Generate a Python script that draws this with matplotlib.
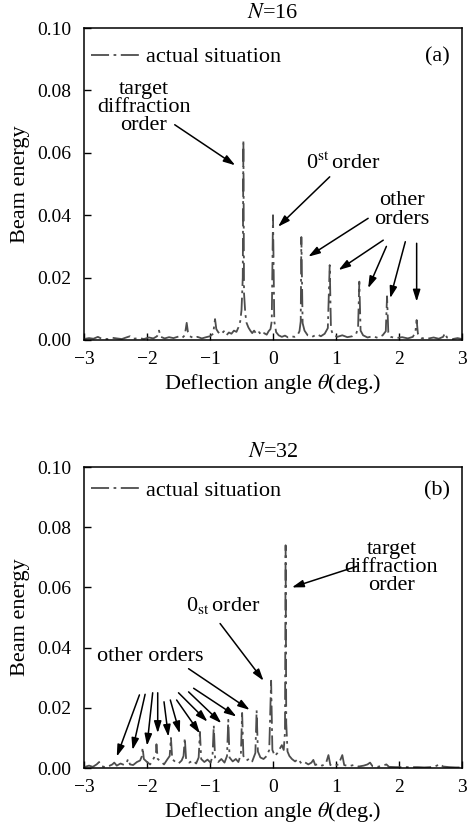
import numpy as np
import matplotlib
matplotlib.use("Agg")
import matplotlib.pyplot as plt

plt.rcParams['font.family'] = ['Liberation Serif', 'DejaVu Serif']
plt.rcParams['mathtext.fontset'] = 'stix'

# ---- panel (a), N=16: deflection angle (deg) and beam energy
theta_a = [-3.00, -2.92, -2.85, -2.78, -2.72, -2.62, -2.55, -2.48, -2.40, -2.33,
           -2.27, -2.22, -2.12, -2.05, -1.97, -1.90, -1.84, -1.81, -1.78, -1.72,
           -1.65, -1.58, -1.50, -1.44, -1.40, -1.37, -1.35, -1.32, -1.26, -1.20,
           -1.13, -1.06, -1.00, -0.95, -0.92, -0.90, -0.87, -0.83, -0.78, -0.74,
           -0.70, -0.66, -0.62, -0.58, -0.55, -0.52, -0.50, -0.48, -0.47, -0.46,
           -0.44, -0.42, -0.39, -0.36, -0.33, -0.30, -0.26, -0.22, -0.18, -0.14,
           -0.10, -0.07, -0.04, -0.02, 0.00, 0.02, 0.05, 0.09, 0.14, 0.19,
           0.24, 0.29, 0.34, 0.39, 0.42, 0.44, 0.45, 0.47, 0.50, 0.55,
           0.62, 0.70, 0.76, 0.82, 0.87, 0.90, 0.92, 0.95, 1.02, 1.10,
           1.18, 1.26, 1.32, 1.35, 1.37, 1.39, 1.43, 1.50, 1.58, 1.66,
           1.74, 1.79, 1.81, 1.83, 1.87, 1.95, 2.05, 2.14, 2.22, 2.26,
           2.28, 2.30, 2.36, 2.45, 2.55, 2.63, 2.70, 2.73, 2.76, 2.85,
           2.93, 3.00]
energy_a = [0.0003, 0.0006, 0.0004, 0.0010, 0.0004, 0.0003, 0.0007, 0.0005, 0.0003, 0.0008,
            0.0012, 0.0004, 0.0006, 0.0003, 0.0008, 0.0005, 0.0012, 0.0030, 0.0010, 0.0005,
            0.0009, 0.0006, 0.0011, 0.0007, 0.0015, 0.0055, 0.0025, 0.0012, 0.0006, 0.0010,
            0.0005, 0.0009, 0.0012, 0.0020, 0.0067, 0.0035, 0.0025, 0.0018, 0.0028, 0.0015,
            0.0024, 0.0020, 0.0030, 0.0026, 0.0040, 0.0060, 0.0096, 0.0200, 0.0640, 0.0150,
            0.0085, 0.0055, 0.0040, 0.0030, 0.0022, 0.0030, 0.0018, 0.0025, 0.0015, 0.0022,
            0.0017, 0.0028, 0.0035, 0.0060, 0.0400, 0.0060, 0.0025, 0.0015, 0.0010, 0.0014,
            0.0008, 0.0012, 0.0010, 0.0016, 0.0028, 0.0060, 0.0330, 0.0054, 0.0030, 0.0015,
            0.0010, 0.0018, 0.0012, 0.0020, 0.0038, 0.0240, 0.0035, 0.0018, 0.0010, 0.0015,
            0.0009, 0.0012, 0.0020, 0.0038, 0.0187, 0.0030, 0.0015, 0.0008, 0.0012, 0.0007,
            0.0015, 0.0028, 0.0140, 0.0025, 0.0010, 0.0006, 0.0009, 0.0005, 0.0010, 0.0025,
            0.0064, 0.0020, 0.0006, 0.0004, 0.0008, 0.0004, 0.0010, 0.0022, 0.0008, 0.0003,
            0.0006, 0.0003]

# ---- panel (b), N=32
theta_b = [-3.00, -2.92, -2.86, -2.80, -2.76, -2.72, -2.66, -2.60, -2.55, -2.52,
           -2.48, -2.42, -2.36, -2.32, -2.30, -2.27, -2.22, -2.16, -2.11, -2.08,
           -2.07, -2.05, -2.00, -1.95, -1.90, -1.86, -1.85, -1.83, -1.78, -1.73,
           -1.68, -1.64, -1.62, -1.60, -1.55, -1.50, -1.45, -1.42, -1.40, -1.38,
           -1.33, -1.27, -1.22, -1.18, -1.16, -1.14, -1.09, -1.04, -0.99, -0.96,
           -0.94, -0.92, -0.87, -0.82, -0.77, -0.73, -0.71, -0.69, -0.64, -0.59,
           -0.55, -0.51, -0.49, -0.47, -0.42, -0.37, -0.33, -0.28, -0.26, -0.24,
           -0.20, -0.15, -0.10, -0.06, -0.03, -0.01, 0.03, 0.07, 0.11, 0.14,
           0.17, 0.19, 0.20, 0.21, 0.23, 0.26, 0.30, 0.35, 0.40, 0.45,
           0.50, 0.56, 0.61, 0.64, 0.67, 0.72, 0.78, 0.84, 0.88, 0.91,
           0.97, 1.04, 1.10, 1.13, 1.20, 1.28, 1.36, 1.44, 1.50, 1.54,
           1.58, 1.66, 1.74, 1.80, 1.84, 1.95, 2.05, 2.15, 2.30, 2.40,
           2.50, 2.58, 2.65, 2.70, 2.80, 2.90, 3.00]
energy_b = [0.0003, 0.0008, 0.0004, 0.0012, 0.0020, 0.0006, 0.0003, 0.0007, 0.0012, 0.0018,
            0.0008, 0.0015, 0.0010, 0.0020, 0.0030, 0.0012, 0.0010, 0.0020, 0.0025, 0.0040,
            0.0068, 0.0030, 0.0020, 0.0012, 0.0030, 0.0045, 0.0079, 0.0030, 0.0022, 0.0012,
            0.0028, 0.0040, 0.0100, 0.0030, 0.0020, 0.0015, 0.0025, 0.0040, 0.0100, 0.0030,
            0.0018, 0.0025, 0.0015, 0.0035, 0.0120, 0.0030, 0.0020, 0.0028, 0.0018, 0.0040,
            0.0142, 0.0035, 0.0020, 0.0030, 0.0018, 0.0040, 0.0160, 0.0035, 0.0022, 0.0030,
            0.0020, 0.0045, 0.0183, 0.0040, 0.0025, 0.0032, 0.0022, 0.0050, 0.0192, 0.0055,
            0.0035, 0.0030, 0.0040, 0.0060, 0.0290, 0.0060, 0.0040, 0.0050, 0.0065, 0.0076,
            0.0060, 0.0120, 0.0740, 0.0150, 0.0055, 0.0040, 0.0030, 0.0022, 0.0030, 0.0015,
            0.0020, 0.0012, 0.0018, 0.0027, 0.0010, 0.0014, 0.0008, 0.0015, 0.0043, 0.0010,
            0.0008, 0.0012, 0.0043, 0.0010, 0.0006, 0.0010, 0.0005, 0.0008, 0.0012, 0.0018,
            0.0006, 0.0004, 0.0008, 0.0012, 0.0004, 0.0003, 0.0003, 0.0003, 0.0003, 0.0002,
            0.0003, 0.0006, 0.0013, 0.0005, 0.0003, 0.0002, 0.0002]

xticks = [-3, -2, -1, 0, 1, 2, 3]
xtick_labels = ['\u22123', '\u22122', '\u22121', '0', '1', '2', '3']
yticks = [0.00, 0.02, 0.04, 0.06, 0.08, 0.10]

# arrows: (text-side end, tip)
other_a = [((1.51, 0.0390), (0.56, 0.0267)),
           ((1.75, 0.0320), (1.04, 0.0224)),
           ((1.80, 0.0300), (1.51, 0.0166)),
           ((2.10, 0.0315), (1.86, 0.0134)),
           ((2.28, 0.0310), (2.28, 0.0123))]
other_b = [((-2.12, 0.0243), (-2.48, 0.0038)),
           ((-2.03, 0.0245), (-2.23, 0.0060)),
           ((-1.91, 0.0250), (-2.00, 0.0074)),
           ((-1.83, 0.0250), (-1.83, 0.0116)),
           ((-1.73, 0.0220), (-1.66, 0.0104)),
           ((-1.63, 0.0226), (-1.48, 0.0115)),
           ((-1.53, 0.0226), (-1.16, 0.0115)),
           ((-1.50, 0.0250), (-1.04, 0.0154)),
           ((-1.34, 0.0253), (-0.82, 0.0149)),
           ((-1.26, 0.0265), (-0.58, 0.0171)),
           ((-1.34, 0.0330), (-0.37, 0.0193))]

TFS = 14    # tick labels
FS = 16     # other text
line_kw = dict(color='#4d4d4d', lw=1.3, linestyle=(0, (10, 2.5, 1.5, 2.5)))
arrow_kw = dict(arrowstyle='-|>,head_length=0.7,head_width=0.22', color='black',
                lw=1.1, shrinkA=0, shrinkB=0)

fig = plt.figure(figsize=(4.68, 8.27), dpi=100)
ax1 = fig.add_axes([0.1795, 0.5889, 0.8077, 0.3772])
ax2 = fig.add_axes([0.1795, 0.0713, 0.8077, 0.3640])

for ax, th, en, title, tag, ly in [(ax1, theta_a, energy_a, '$N$=16', '(a)', 0.907),
                                    (ax2, theta_b, energy_b, '$N$=32', '(b)', 0.922)]:
    ax.plot(th, en, label='actual situation', **line_kw)
    ax.set_xlim(-3, 3)
    ax.set_ylim(0, 0.10)
    ax.set_xticks(xticks)
    ax.set_xticklabels(xtick_labels)
    ax.set_yticks(yticks)
    ax.set_yticklabels(['%.2f' % v for v in yticks])
    ax.tick_params(direction='in', length=5, width=1, labelsize=TFS)
    ax.tick_params(axis='y', pad=9)
    ax.tick_params(axis='x', pad=8)
    for s in ax.spines.values():
        s.set_linewidth(1.1)
    ax.set_xlabel(r'Deflection angle $\theta$(deg.)', fontsize=FS, labelpad=3)
    ax.set_ylabel('Beam energy', fontsize=FS, labelpad=5)
    ax.set_title(title, fontsize=FS, pad=7)
    ax.legend(loc='center left', bbox_to_anchor=(0.0, ly), frameon=False, fontsize=FS,
              handlelength=2.2, handletextpad=0.3, borderaxespad=0.0, borderpad=0.3)
    ax.text(0.968, ly, tag, transform=ax.transAxes, ha='right', va='center', fontsize=FS)

# panel (a) labels
ax1.text(-2.05, 0.0745, 'target\ndiffraction\norder', ha='center', va='center',
         fontsize=FS, linespacing=0.95)
ax1.annotate('', xy=(-0.60, 0.0560), xytext=(-1.56, 0.0690), arrowprops=arrow_kw)
ax1.text(1.12, 0.0566, r'0$^{\mathrm{st}}\,$order', ha='center', va='center', fontsize=FS)
ax1.annotate('', xy=(0.08, 0.0363), xytext=(0.90, 0.0523), arrowprops=arrow_kw)
ax1.text(2.04, 0.0417, 'other\norders', ha='center', va='center', fontsize=FS,
         linespacing=0.95)
for start, tip in other_a:
    ax1.annotate('', xy=tip, xytext=start, arrowprops=arrow_kw)

# panel (b) labels
ax2.text(1.88, 0.0666, 'target\ndiffraction\norder', ha='center', va='center',
         fontsize=FS, linespacing=0.95)
ax2.annotate('', xy=(0.30, 0.0600), xytext=(1.33, 0.0670), arrowprops=arrow_kw)
ax2.text(-0.79, 0.0540, r'0$_{\mathrm{st}}\,$order', ha='center', va='center', fontsize=FS)
ax2.annotate('', xy=(-0.15, 0.0290), xytext=(-0.84, 0.0480), arrowprops=arrow_kw)
ax2.text(-1.95, 0.0370, 'other orders', ha='center', va='center', fontsize=FS)
for start, tip in other_b:
    ax2.annotate('', xy=tip, xytext=start, arrowprops=arrow_kw)

fig.savefig('out.png', dpi=100)
